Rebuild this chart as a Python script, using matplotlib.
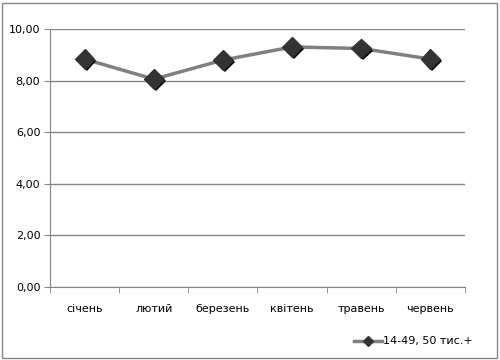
import matplotlib
matplotlib.use("Agg")
import matplotlib.pyplot as plt
import matplotlib.patheffects as pe
from matplotlib.patches import Rectangle
from matplotlib.ticker import FuncFormatter, FixedLocator

months = ["січень", "лютий", "березень", "квітень", "травень", "червень"]
values = [8.84, 8.06, 8.80, 9.31, 9.25, 8.84]
series_name = "14-49, 50 тис.+"

grey = "#868686"

fig = plt.figure(figsize=(5, 3.6), dpi=100)
ax = fig.add_axes([0.1, 0.203, 0.83, 0.716])

x = list(range(len(months)))
ax.plot(x, values, color="#808080", lw=2.5, zorder=3)
ax.plot(x, values, ls="none", marker="D", ms=10, mfc="#333333", mec="#333333",
        zorder=4,
        path_effects=[pe.SimplePatchShadow(offset=(1.5, -1.5), shadow_rgbFace="black", alpha=1),
                      pe.Normal()])

ax.set_xlim(-0.5, len(months) - 0.5)
ax.set_ylim(0, 10)
ax.set_yticks([0, 2, 4, 6, 8, 10])
ax.yaxis.set_major_formatter(FuncFormatter(lambda v, p: f"{v:.2f}".replace(".", ",")))
ax.grid(axis="y", color=grey, lw=1)
ax.set_axisbelow(True)

ax.set_xticks(x)
ax.set_xticklabels(months)
ax.xaxis.set_minor_locator(FixedLocator([i - 0.5 for i in range(len(months) + 1)]))
ax.tick_params(axis="x", which="major", length=0, pad=12, labelsize=8)
ax.tick_params(axis="x", which="minor", length=4, color=grey, direction="out")
ax.tick_params(axis="y", length=4, color=grey, labelsize=8, pad=3)

for s in ["top", "right"]:
    ax.spines[s].set_visible(False)
for s in ["left", "bottom"]:
    ax.spines[s].set_color(grey)

h, = ax.plot([], [], color="#808080", lw=2.5, marker="D", ms=5, mfc="#333333", mec="#333333")
fig.legend([h], [series_name], loc="lower right", bbox_to_anchor=(0.965, 0.01),
           frameon=False, fontsize=8, handlelength=2.5, handletextpad=0.1)

fig.add_artist(Rectangle((0.004, 0.006), 0.99, 0.986, transform=fig.transFigure,
                         fill=False, edgecolor=grey, lw=1))

fig.savefig("out.png", dpi=100)
